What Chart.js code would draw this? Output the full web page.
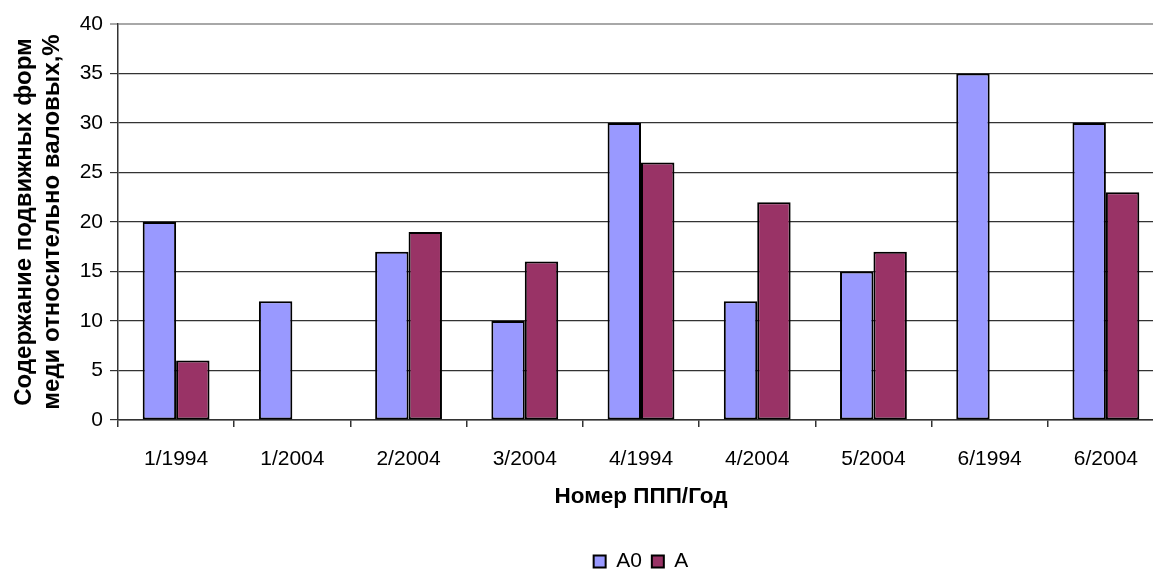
<!DOCTYPE html>
<html>
<head>
<meta charset="utf-8">
<script src="https://cdn.jsdelivr.net/npm/chart.js@4/dist/chart.umd.min.js"></script>
<style>
html,body{margin:0;padding:0;width:1153px;height:574px;overflow:hidden;background:#fff;}
#c{position:absolute;left:0;top:0;}
</style>
</head>
<body>
<canvas id="c" width="1164" height="582"></canvas>
<script>
const categories = ['1/1994','1/2004','2/2004','3/2004','4/1994','4/2004','5/2004','6/1994','6/2004'];
const seriesA0 = [20, 12, 17, 10, 30, 12, 15, 35, 30];
const seriesA = [6, null, 19, 16, 26, 22, 17, null, 23];
const yTicks = [0, 5, 10, 15, 20, 25, 30, 35, 40];
const xTitle = 'Номер ППП/Год';
const yTitle = ['Содержание подвижных форм', 'меди относительно валовых,%'];

const FONT = "'Liberation Sans', Arial, sans-serif";
Chart.defaults.font.family = FONT;
Chart.defaults.color = '#000';

new Chart(document.getElementById('c'), {
  type: 'bar',
  data: {
    labels: categories,
    datasets: [
      {label: 'A0', data: seriesA0, backgroundColor: '#9999FF', borderColor: '#000', borderWidth: 2, borderSkipped: false},
      {label: 'A', data: seriesA, backgroundColor: '#993366', borderColor: '#000', borderWidth: 2, borderSkipped: false}
    ]
  },
  options: {
    responsive: false,
    animation: false,
    categoryPercentage: 0.575,
    barPercentage: 1.0,
    layout: {padding: {top: 24, left: 0, right: 0, bottom: 0}},
    plugins: {
      tooltip: {enabled: false},
      legend: {
        position: 'bottom',
        fullSize: false,
        labels: {boxWidth: 12, boxHeight: 12, padding: 10, font: {size: 21, family: FONT}, color: '#000'}
      }
    },
    scales: {
      x: {
        grid: {display: true, drawOnChartArea: false, offset: true, tickLength: 7, color: '#333', lineWidth: 1.5},
        border: {color: '#333', width: 1.5},
        ticks: {font: {size: 21, family: FONT}, color: '#000', padding: 20, maxRotation: 0, autoSkip: false},
        title: {display: true, text: xTitle, font: {size: 22.5, weight: 'bold', family: FONT}, color: '#000', padding: {top: 0, bottom: 31}},
        afterFit: (s) => { s.height = 121; }
      },
      y: {
        min: 0, max: 40,
        afterBuildTicks: (s) => { s.ticks = yTicks.map(v => ({value: v})); },
        grid: {
          tickLength: 8,
          color: (ctx) => ctx.tick && ctx.tick.value === 40 ? '#a8a8a8' : '#333',
          lineWidth: (ctx) => ctx.tick && ctx.tick.value === 40 ? 2 : 1.2
        },
        border: {color: '#333', width: 1.5},
        ticks: {font: {size: 21, family: FONT}, color: '#000', padding: 7},
        title: {display: true, text: yTitle, font: {size: 24, weight: 'bold', family: FONT, lineHeight: 1.167}, color: '#000', padding: {top: 10, bottom: 0}},
        afterFit: (s) => { s.width = 118; }
      }
    }
  }
});
</script>
</body>
</html>
